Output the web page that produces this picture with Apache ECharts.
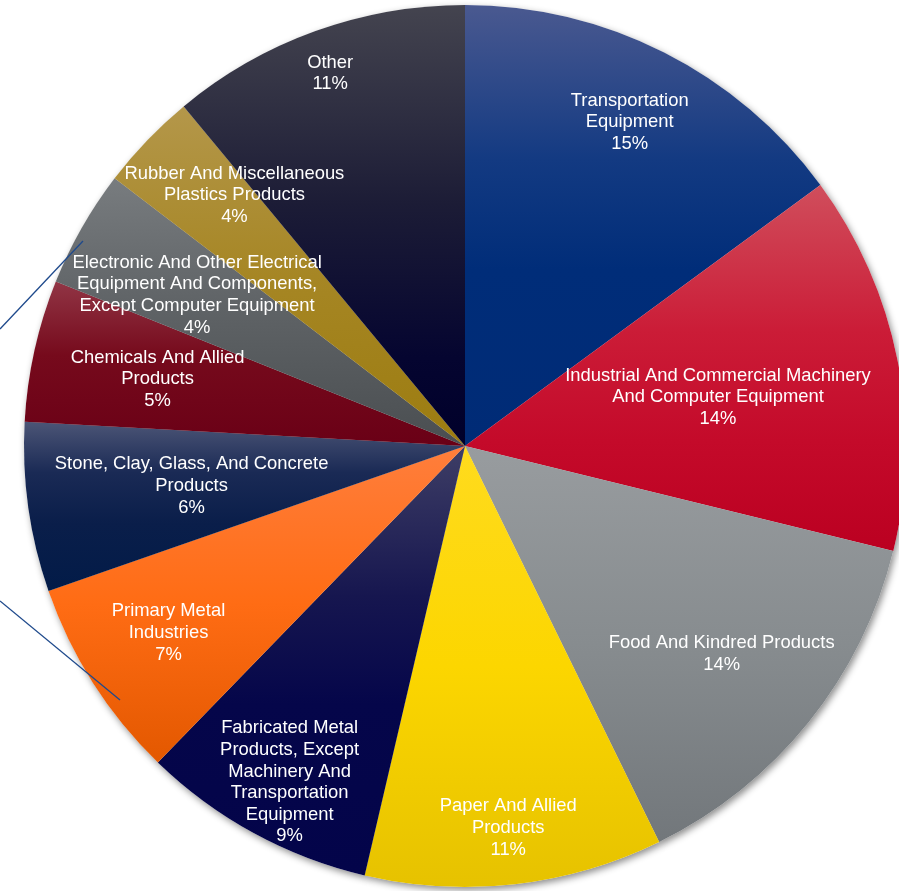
<!DOCTYPE html>
<html>
<head>
<meta charset="utf-8">
<script src="https://cdn.jsdelivr.net/npm/echarts@6/dist/echarts.min.js"></script>
<style>
  html, body { margin: 0; padding: 0; background: #ffffff; }
  #chart { width: 899px; height: 891px; }
</style>
</head>
<body>
<div id="chart"></div>
<script>
// Industry groups (clockwise from 12 o'clock) and their shares
const categories = [
  'Transportation\nEquipment',
  'Industrial And Commercial Machinery\nAnd Computer Equipment',
  'Food And Kindred Products',
  'Paper And Allied\nProducts',
  'Fabricated Metal\nProducts, Except\nMachinery And\nTransportation\nEquipment',
  'Primary Metal\nIndustries',
  'Stone, Clay, Glass, And Concrete\nProducts',
  'Chemicals And Allied\nProducts',
  'Electronic And Other Electrical\nEquipment And Components,\nExcept Computer Equipment',
  'Rubber And Miscellaneous\nPlastics Products',
  'Other'
];
const shares = [14.9, 13.9, 13.9, 10.9, 8.6, 7.4, 6.2, 5.2, 4.3, 3.6, 11.0];

// Slice fills: vertical gradient stops, top to bottom
const fills = [
  [['#4a5990', 0], ['#133a82', 0.35], ['#002d79', 0.6], ['#002b76', 1]],
  [['#d04e5c', 0], ['#cb1c37', 0.4], ['#c40a2a', 0.7], ['#bb0021', 1]],
  [['#989c9f', 0], ['#878c8f', 0.5], ['#72777b', 1]],
  [['#ffdb1e', 0], ['#fcd600', 0.5], ['#e6c200', 1]],
  [['#3e3e66', 0], ['#16164f', 0.35], ['#05064a', 0.6], ['#03044a', 1]],
  [['#ff7e3c', 0], ['#ff6c14', 0.5], ['#e35800', 1]],
  [['#4c5576', 0], ['#1a2a55', 0.3], ['#0a1e4a', 0.6], ['#021b48', 1]],
  [['#913545', 0], ['#760a1c', 0.45], ['#6a0016', 1]],
  [['#787c7f', 0], ['#5e6265', 0.5], ['#4a4e51', 1]],
  [['#b4974a', 0], ['#a68624', 0.5], ['#9c7c10', 1]],
  [['#44444f', 0], ['#1c1c36', 0.45], ['#050530', 0.8], ['#00002a', 1]]
];

// Label placement: distance from the centre (fraction of radius) and
// a small angular nudge (degrees) away from each slice's bisector
const labelReach = [0.827, 0.585, 0.747, 0.868, 0.857, 0.793, 0.626, 0.714, 0.699, 0.775, 0.902];
const labelTurn  = [0, 0, 0, 0, -1, 0.5, 0, 0, 0, 3.7, 0];

const CX = 465, CY = 446, R = 441;

function gradient(stops) {
  return new echarts.graphic.LinearGradient(0, 0, 0, 1,
    stops.map(s => ({ offset: s[1], color: s[0] })));
}

const total = shares.reduce((a, b) => a + b, 0);
const midAngles = [];
let acc = 0;
shares.forEach(v => {
  midAngles.push((acc + v / 2) / total * 2 * Math.PI);
  acc += v;
});

const pieData = categories.map((name, i) => ({
  name: name,
  value: shares[i],
  itemStyle: { color: gradient(fills[i]) }
}));

const shadowData = categories.map((name, i) => ({ name: name, value: shares[i] }));

const chart = echarts.init(document.getElementById('chart'), null, { renderer: 'canvas' });

chart.setOption({
  animation: false,
  backgroundColor: '#ffffff',
  series: [
    {
      // soft drop shadow underneath the pie
      type: 'pie',
      silent: true,
      z: 1,
      center: [CX, CY],
      radius: R,
      startAngle: 90,
      clockwise: true,
      data: shadowData,
      label: { show: false },
      labelLine: { show: false },
      itemStyle: {
        color: '#ffffff',
        borderWidth: 0,
        shadowBlur: 7,
        shadowOffsetX: 2,
        shadowOffsetY: 3,
        shadowColor: 'rgba(0,0,0,0.45)'
      }
    },
    {
      type: 'pie',
      z: 2,
      center: [CX, CY],
      radius: R,
      startAngle: 90,
      clockwise: true,
      percentPrecision: 0,
      data: pieData,
      itemStyle: { borderWidth: 0 },
      emphasis: { disabled: true },
      label: {
        show: true,
        position: 'inside',
        formatter: '{b}\n{d}%',
        color: '#ffffff',
        fontFamily: 'Liberation Sans, Arial, sans-serif',
        fontSize: 18.4,
        lineHeight: 21.6,
        align: 'center',
        verticalAlign: 'middle'
      },
      labelLine: { show: false },
      labelLayout: function (params) {
        const i = params.dataIndex;
        const a = midAngles[i] + labelTurn[i] * Math.PI / 180;
        const r = labelReach[i] * R;
        return {
          x: CX + r * Math.sin(a),
          y: CY - r * Math.cos(a) + 1.5,
          align: 'center',
          verticalAlign: 'middle'
        };
      }
    }
  ],
  graphic: [
    {
      type: 'line',
      z: 10,
      shape: { x1: 0, y1: 329, x2: 83, y2: 241 },
      style: { stroke: '#1f4a8c', lineWidth: 1.3 }
    },
    {
      type: 'line',
      z: 10,
      shape: { x1: 0, y1: 601, x2: 120, y2: 700 },
      style: { stroke: '#1f4a8c', lineWidth: 1.3 }
    }
  ]
});
</script>
</body>
</html>
